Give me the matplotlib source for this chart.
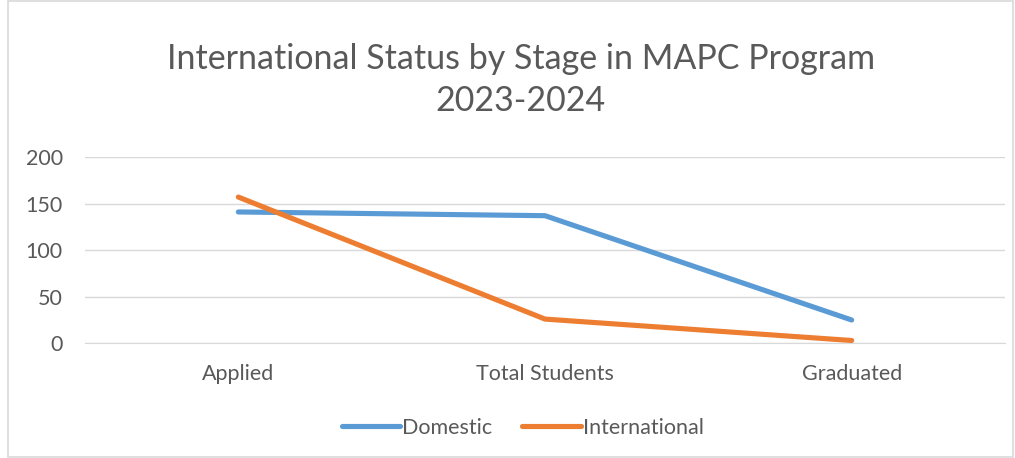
import matplotlib
matplotlib.use("Agg")
import matplotlib.pyplot as plt
from matplotlib.patches import Rectangle

categories = ["Applied", "Total Students", "Graduated"]
domestic = [141, 137, 25]
international = [157, 26, 3]
yticks = [0, 50, 100, 150, 200]

plt.rcParams['font.family'] = ['Lato', 'DejaVu Sans']
grey = "#595959"

fig = plt.figure(figsize=(10.15, 4.58), dpi=100)
fig.patches.append(Rectangle((8/1015, 0.002), 1 - 10/1015, 0.996, transform=fig.transFigure,
                             fill=False, edgecolor="#d9d9d9", linewidth=1.2))
ax = fig.add_axes([85/1015, 1 - 343.3/458, 920/1015, (343.3 - 157)/458])
x = range(len(categories))
ax.plot(x, domestic, color="#5b9bd5", linewidth=3.7, solid_capstyle="round", label="Domestic")
ax.plot(x, international, color="#ed7d31", linewidth=3.7, solid_capstyle="round", label="International")
ax.set_xlim(-0.5, 2.5)
ax.set_ylim(0, 200)
ax.set_yticks(yticks)
ax.set_xticks(list(x))
ax.set_xticklabels(categories)
ax.grid(axis="y", color="#d9d9d9", linewidth=1)
ax.set_axisbelow(True)
for s in ["top", "right", "left"]:
    ax.spines[s].set_visible(False)
ax.spines["bottom"].set_color("#d9d9d9")
ax.tick_params(axis="both", length=0, labelsize=15.5, colors=grey)
ax.tick_params(axis="x", pad=15)
ax.tick_params(axis="y", pad=16)

fig.text(0.513, 1 - 80/458, "International Status by Stage in MAPC Program\n2023-2024",
         ha="center", va="center", fontsize=24.5, color=grey, linespacing=1.4)
fig.legend(loc="center", bbox_to_anchor=(0.515, 1 - 428/458), ncol=2, frameon=False,
           fontsize=15.5, labelcolor=grey, handlelength=2.7, handletextpad=0.1, columnspacing=1.4)
fig.savefig("out.png", dpi=100)
